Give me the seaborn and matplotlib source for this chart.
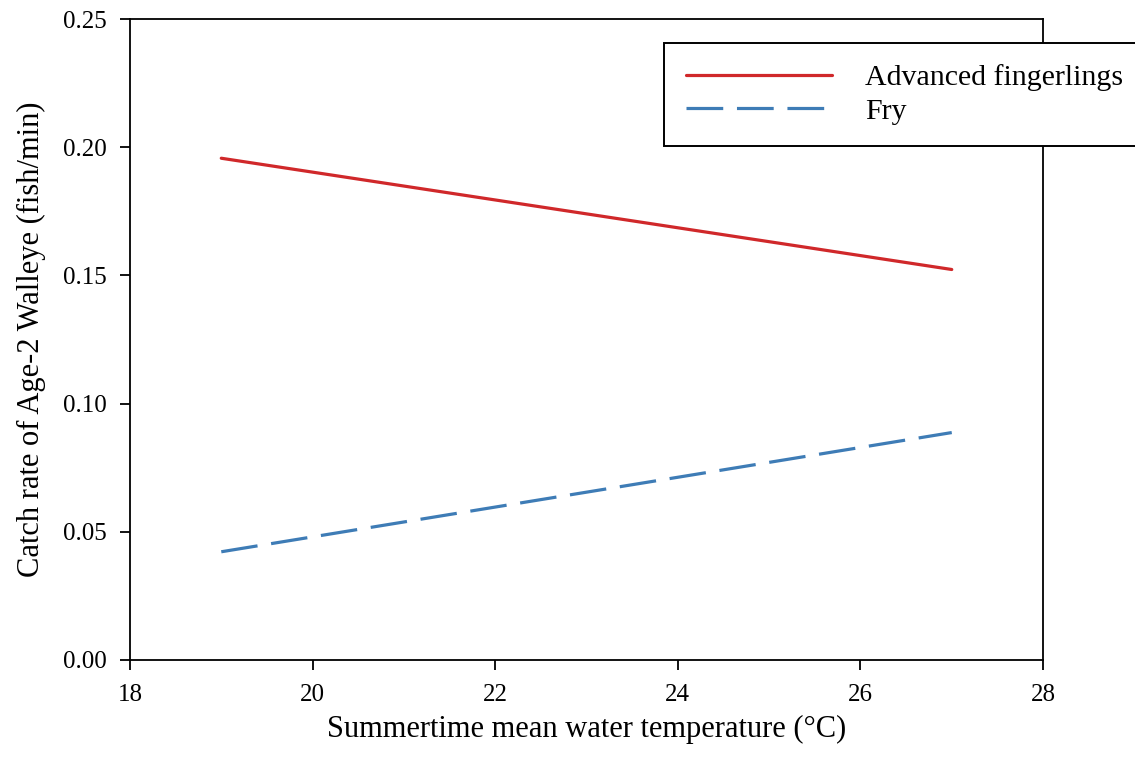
import matplotlib
matplotlib.use('Agg')
import matplotlib.pyplot as plt
import pandas as pd
import seaborn as sns

# model lines
temperature = [19, 27]
fingerlings = [0.1957, 0.1523]
fry = [0.0422, 0.0887]
groups = ['Advanced fingerlings', 'Fry']

xticks = [18, 20, 22, 24, 26, 28]
yticks = [0.00, 0.05, 0.10, 0.15, 0.20, 0.25]

df = pd.DataFrame({
    'temp': temperature * 2,
    'rate': fingerlings + fry,
    'group': [groups[0]] * len(temperature) + [groups[1]] * len(temperature),
})

sns.set_style('white')
plt.rcParams['font.family'] = ['Liberation Serif', 'DejaVu Serif']
plt.rcParams['text.color'] = 'black'
plt.rcParams['axes.labelcolor'] = 'black'
plt.rcParams['axes.linewidth'] = 1.3
plt.rcParams['xtick.major.size'] = 7
plt.rcParams['ytick.major.size'] = 7
plt.rcParams['xtick.major.width'] = 1.3
plt.rcParams['ytick.major.width'] = 1.3

fig = plt.figure(figsize=(11.35, 7.7), dpi=100)
ax = fig.add_axes([0.1145, 0.1429, 0.8045, 0.8324])

palette = {groups[0]: '#d0282a', groups[1]: '#3e7cb6'}
dashes = {groups[0]: '', groups[1]: (11.5, 4.3)}
sns.lineplot(data=df, x='temp', y='rate', hue='group', style='group',
             palette=palette, dashes=dashes, linewidth=2.3, ax=ax)

ax.set_xlim(18, 28)
ax.set_ylim(0, 0.25)
ax.set_xticks(xticks)
ax.set_yticks(yticks)
ax.set_xticklabels([str(t) for t in xticks])
ax.set_yticklabels(['{:.2f}'.format(t) for t in yticks])
ax.tick_params(axis='both', labelsize=18, direction='out', colors='black', pad=10,
               bottom=True, left=True)
for s in ax.spines.values():
    s.set_color('black')

ax.set_xlabel('Summertime mean water temperature (\u00b0C)', fontsize=22, labelpad=7)
ax.set_ylabel('Catch rate of Age-2 Walleye (fish/min)', fontsize=22, labelpad=12)

# legend box runs off the right edge of the figure, as in the original
leg = ax.legend(loc='upper right', bbox_to_anchor=(1144.5 / 1135, 1 - 43 / 770),
                bbox_transform=fig.transFigure, fontsize=21.5, frameon=True,
                fancybox=False, handlelength=4.9, handletextpad=1.1,
                labelspacing=0.22, borderpad=0.72, borderaxespad=0)
leg.get_frame().set_edgecolor('black')
leg.get_frame().set_linewidth(1.4)
leg.get_frame().set_alpha(1)

fig.savefig('out.png', dpi=100)
